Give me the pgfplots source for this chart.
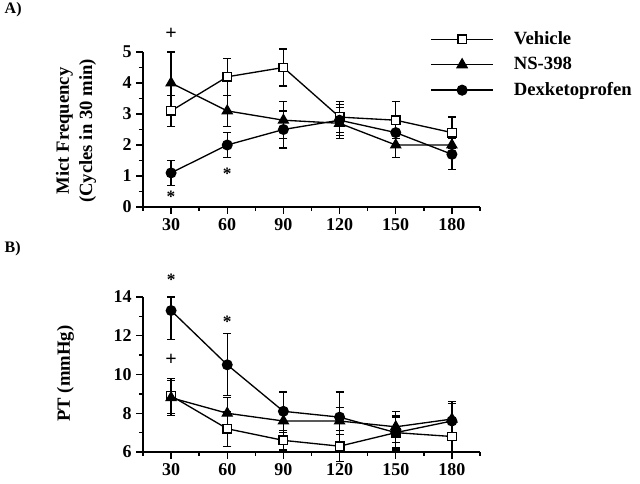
\documentclass[border=0pt]{standalone}
\usepackage{pgfplots}
\pgfplotsset{compat=1.18}
\usepackage{fontspec}
\setmainfont{Liberation Serif}
\begin{document}
\begin{tikzpicture}
\useasboundingbox (0pt,0pt) rectangle (480pt,362.25pt);
\pgfplotsset{
  every axis/.append style={
    scale only axis, width=252.75pt, height=116.25pt,
    axis x line*=bottom, axis y line*=left, axis line style={-, line width=1.1pt},
    xmin=15, xmax=195, xtick={30,60,...,180}, minor xtick={15,45,...,195},
    tick align=outside, major tick length=5pt, minor tick length=3pt,
    every tick/.style={black, line width=1.1pt},
    tick label style={font=\fontsize{13.5}{15}\selectfont\bfseries},
    /pgf/number format/assume math mode=true,
    clip=false,
    error bars/error bar style={black, line width=1pt},
    error bars/error mark options={black, rotate=90, mark size=3pt, line width=1pt},
  },
  vehicle/.style={black, line width=1pt, mark=square*, mark options={fill=white, draw=black, mark size=3.2pt, line width=1pt}},
  ns/.style={black, line width=1pt, mark=triangle*, mark options={fill=black, draw=black, mark size=4.2pt}},
  dex/.style={black, line width=1pt, mark=*, mark options={fill=black, draw=black, mark size=3.6pt}},
}
% Panel A
\begin{axis}[at={(107.25pt,207pt)}, anchor=south west,
  ymin=0, ymax=5, ytick={0,1,...,5}, minor ytick={0.5,1.5,...,4.5},
  legend style={at={(rel axis cs:0.852,1.14)}, anchor=north west, draw=none, fill=none,
    font=\fontsize{14}{16}\selectfont\bfseries, inner sep=0pt, row sep=6pt,
    nodes={inner sep=1pt}, /tikz/every odd column/.append style={column sep=14pt}},
  legend cell align=left,
  legend image code/.code={\draw[mark repeat=2, mark phase=2, #1, line width=1.1pt] plot coordinates {(0pt,0pt) (23.25pt,0pt) (46.5pt,0pt)};},
]
\addplot[vehicle, error bars/.cd, y dir=both, y explicit] coordinates {
 (30,3.1) +- (0,0.5) (60,4.2) +- (0,0.6) (90,4.5) +- (0,0.6)
 (120,2.9) +- (0,0.5) (150,2.8) +- (0,0.6) (180,2.4) +- (0,0.5)};
\addlegendentry{Vehicle}
\addplot[ns, error bars/.cd, y dir=both, y explicit] coordinates {
 (30,4.0) +- (0,1.0) (60,3.1) +- (0,0.5) (90,2.8) +- (0,0.6)
 (120,2.7) +- (0,0.5) (150,2.0) +- (0,0.4) (180,2.0) +- (0,0.4)};
\addlegendentry{NS-398}
\addplot[dex, error bars/.cd, y dir=both, y explicit] coordinates {
 (30,1.1) +- (0,0.4) (60,2.0) +- (0,0.4) (90,2.5) +- (0,0.6)
 (120,2.8) +- (0,0.5) (150,2.4) +- (0,0.4) (180,1.7) +- (0,0.5)};
\addlegendentry{Dexketoprofen}
\node[font=\fontsize{15}{16}\selectfont\bfseries] at (axis cs:30,5.58) {+};
\node[font=\fontsize{13}{15}\selectfont\bfseries] at (axis cs:30,0.33) {*};
\node[font=\fontsize{13}{15}\selectfont\bfseries] at (axis cs:60,1.06) {*};
\end{axis}
% Panel B
\begin{axis}[at={(107.25pt,23.25pt)}, anchor=south west,
  ymin=6, ymax=14, ytick={6,8,...,14}, minor ytick={7,9,11,13},
]
\addplot[vehicle, error bars/.cd, y dir=both, y explicit] coordinates {
 (30,8.9) +- (0,0.9) (60,7.2) +- (0,0.9) (90,6.6) +- (0,0.5)
 (120,6.3) +- (0,0.8) (150,7.0) +- (0,0.8) (180,6.8) +- (0,0.8)};
\addplot[ns, error bars/.cd, y dir=both, y explicit] coordinates {
 (30,8.8) +- (0,0.9) (60,8.0) +- (0,0.8) (90,7.6) +- (0,0.6)
 (120,7.6) +- (0,0.7) (150,7.3) +- (0,0.8) (180,7.7) +- (0,0.9)};
\addplot[dex, error bars/.cd, y dir=both, y explicit] coordinates {
 (30,13.3) += (0,0.7) -= (0,1.5) (60,10.5) +- (0,1.6) (90,8.1) +- (0,1.0)
 (120,7.8) +- (0,1.3) (150,7.0) +- (0,0.9) (180,7.6) +- (0,0.9)};
\node[font=\fontsize{13}{15}\selectfont\bfseries] at (axis cs:30,14.9) {*};
\node[font=\fontsize{13}{15}\selectfont\bfseries] at (axis cs:60,12.7) {*};
\node[font=\fontsize{15}{16}\selectfont\bfseries] at (axis cs:30,10.75) {+};
\end{axis}
% Labels
\node[anchor=west, font=\fontsize{12}{14}\selectfont\bfseries] at (0pt,354.75pt) {A)};
\node[anchor=west, font=\fontsize{12}{14}\selectfont\bfseries] at (0pt,175.5pt) {B)};
\node[rotate=90, align=center, font=\fontsize{14}{17.5}\selectfont\bfseries] at (57pt,264pt) {Mict Frequency\\(Cycles in 30 min)};
\node[rotate=90, font=\fontsize{14}{17}\selectfont\bfseries] at (49pt,82pt) {PT (mmHg)};
\end{tikzpicture}
\end{document}
